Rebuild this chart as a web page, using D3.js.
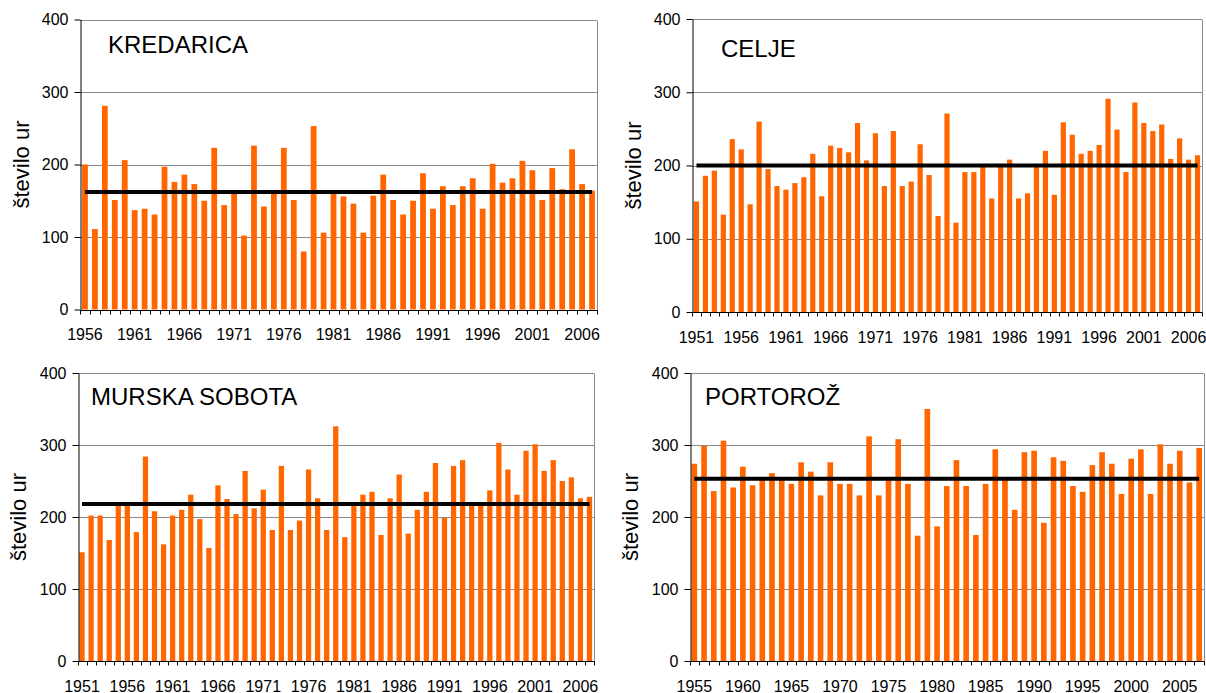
<!DOCTYPE html>
<html>
<head>
<meta charset="utf-8">
<script src="https://cdn.jsdelivr.net/npm/d3@7/dist/d3.min.js"></script>
<style>
  body { margin: 0; background: #fff; }
  svg { display: block; }
  text { font-family: "Liberation Sans", Arial, Helvetica, sans-serif; fill: #000; }
</style>
</head>
<body>
<svg id="chart" width="1206" height="693"></svg>
<script>
// Annual hours of sunshine-type counts ("število ur") per station, with the long-term mean.

const yearsKredarica = [1956,1957,1958,1959,1960,1961,1962,1963,1964,1965,1966,1967,1968,1969,1970,
  1971,1972,1973,1974,1975,1976,1977,1978,1979,1980,1981,1982,1983,1984,1985,1986,1987,1988,1989,1990,
  1991,1992,1993,1994,1995,1996,1997,1998,1999,2000,2001,2002,2003,2004,2005,2006,2007];
const hoursKredarica = [200,111,281,151,206,137,139,131,197,176,186,173,150,223,144,
  161,102,226,142,162,223,151,80,253,106,160,156,146,106,157,186,151,131,150,188,
  139,170,144,170,181,139,201,175,181,205,192,151,195,166,221,173,164];
const meanKredarica = 162;
const ticksKredarica = [1956,1961,1966,1971,1976,1981,1986,1991,1996,2001,2006];

const yearsCelje = [1951,1952,1953,1954,1955,1956,1957,1958,1959,1960,1961,1962,1963,1964,1965,
  1966,1967,1968,1969,1970,1971,1972,1973,1974,1975,1976,1977,1978,1979,1980,1981,1982,1983,1984,1985,
  1986,1987,1988,1989,1990,1991,1992,1993,1994,1995,1996,1997,1998,1999,2000,2001,2002,2003,2004,2005,2006,2007];
const hoursCelje = [151,186,193,133,236,222,147,260,195,172,167,176,184,216,158,
  227,224,218,258,207,244,172,247,172,178,229,187,131,271,122,191,191,198,155,198,
  208,155,162,198,220,160,259,242,216,220,228,291,249,191,286,258,247,256,209,237,208,214];
const meanCelje = 200;
const ticksCelje = [1951,1956,1961,1966,1971,1976,1981,1986,1991,1996,2001,2006];

const yearsMurskaSobota = [1951,1952,1953,1954,1955,1956,1957,1958,1959,1960,1961,1962,1963,1964,1965,
  1966,1967,1968,1969,1970,1971,1972,1973,1974,1975,1976,1977,1978,1979,1980,1981,1982,1983,1984,1985,
  1986,1987,1988,1989,1990,1991,1992,1993,1994,1995,1996,1997,1998,1999,2000,2001,2002,2003,2004,2005,2006,2007];
const hoursMurskaSobota = [151,202,202,168,218,218,179,284,208,162,202,210,231,197,157,
  244,225,204,264,212,238,182,271,182,195,266,226,182,326,172,217,231,235,175,226,
  259,177,210,235,275,199,271,279,218,218,237,303,266,231,292,301,264,279,250,255,226,228];
const meanMurskaSobota = 218;
const ticksMurskaSobota = [1951,1956,1961,1966,1971,1976,1981,1986,1991,1996,2001,2006];

const yearsPortoroz = [1955,1956,1957,1958,1959,1960,1961,1962,1963,1964,1965,1966,1967,1968,1969,
  1970,1971,1972,1973,1974,1975,1976,1977,1978,1979,1980,1981,1982,1983,1984,1985,1986,1987,1988,1989,
  1990,1991,1992,1993,1994,1995,1996,1997,1998,1999,2000,2001,2002,2003,2004,2005,2006,2007];
const hoursPortoroz = [274,299,236,306,241,270,244,254,261,253,246,276,263,230,276,
  246,246,230,312,230,253,308,246,174,350,187,243,279,243,175,246,294,253,210,290,
  292,192,283,278,243,235,272,290,274,232,281,294,232,301,274,292,248,296];
const meanPortoroz = 253;
const ticksPortoroz = [1955,1960,1965,1970,1975,1980,1985,1990,1995,2000,2005];

const yTicks = [0, 100, 200, 300, 400];
const axisTitle = "število ur";

// Panel layout: plot rectangles and title anchors
const panels = [
  { title: "KREDARICA", years: yearsKredarica, values: hoursKredarica, mean: meanKredarica, labels: ticksKredarica,
    left: 80, right: 597, top: 19.5, bottom: 309.5, titleX: 108, titleY: 53, axisTitleX: 28.5 },
  { title: "CELJE", years: yearsCelje, values: hoursCelje, mean: meanCelje, labels: ticksCelje,
    left: 692, right: 1202, top: 19, bottom: 312, titleX: 721, titleY: 57, axisTitleX: 641 },
  { title: "MURSKA SOBOTA", years: yearsMurskaSobota, values: hoursMurskaSobota, mean: meanMurskaSobota, labels: ticksMurskaSobota,
    left: 77.5, right: 594, top: 373, bottom: 661, titleX: 91, titleY: 405, axisTitleX: 26 },
  { title: "PORTOROŽ", years: yearsPortoroz, values: hoursPortoroz, mean: meanPortoroz, labels: ticksPortoroz,
    left: 689.5, right: 1204, top: 373, bottom: 661, titleX: 705, titleY: 405, axisTitleX: 638 }
];

const svg = d3.select("#chart");
const snap = v => Math.round(v) + 0.5;

panels.forEach(p => {
  const g = svg.append("g");

  const x = d3.scaleBand()
    .domain(p.years)
    .range([p.left, p.right])
    .paddingInner(0.42)
    .paddingOuter(0.21);

  const y = d3.scaleLinear()
    .domain([0, 400])
    .range([p.bottom, p.top]);

  // horizontal gridlines (top one closes the plot area)
  g.selectAll("line.grid")
    .data(yTicks.filter(t => t > 0))
    .join("line")
    .attr("class", "grid")
    .attr("x1", p.left).attr("x2", p.right)
    .attr("y1", d => snap(y(d))).attr("y2", d => snap(y(d)))
    .attr("stroke", "#8a8a8a").attr("stroke-width", 1);

  // right border of the plot area
  g.append("line")
    .attr("x1", snap(p.right)).attr("x2", snap(p.right))
    .attr("y1", snap(y(400))).attr("y2", snap(y(0)))
    .attr("stroke", "#8a8a8a").attr("stroke-width", 1);

  // bars
  g.selectAll("rect.bar")
    .data(p.years.map((yr, i) => ({ yr, v: p.values[i] })))
    .join("rect")
    .attr("class", "bar")
    .attr("x", d => x(d.yr))
    .attr("width", x.bandwidth())
    .attr("y", d => y(d.v))
    .attr("height", d => y(0) - y(d.v))
    .attr("fill", "#ff6600");

  // long-term mean line, drawn between first and last category centres
  const half = x.bandwidth() / 2;
  g.append("line")
    .attr("x1", x(p.years[0]) + half)
    .attr("x2", x(p.years[p.years.length - 1]) + half)
    .attr("y1", y(p.mean)).attr("y2", y(p.mean))
    .attr("stroke", "#000").attr("stroke-width", 4);

  // y axis
  const yAxis = d3.axisLeft(y).tickValues(yTicks).tickSize(6).tickPadding(6).tickSizeOuter(0);
  const ya = g.append("g")
    .attr("transform", `translate(${snap(p.left)},0)`)
    .call(yAxis);
  ya.select(".domain").attr("stroke", "#000");
  ya.selectAll(".tick line").attr("stroke", "#000");
  ya.selectAll(".tick text")
    .attr("font-size", 16)
    .attr("font-family", "Liberation Sans, Arial, sans-serif")
    .attr("fill", "#000");

  // x axis: ticks sit between categories, labels every fifth year
  const step = x.step();
  const outer = x.paddingOuter() * step;
  const bounds = d3.range(p.years.length + 1).map(i => p.left + outer - (step * x.paddingInner()) / 2 + i * step);
  const xa = g.append("g");
  xa.append("line")
    .attr("x1", p.left).attr("x2", p.right + 0.5)
    .attr("y1", snap(p.bottom)).attr("y2", snap(p.bottom))
    .attr("stroke", "#000");
  xa.selectAll("line.tk")
    .data(bounds)
    .join("line")
    .attr("class", "tk")
    .attr("x1", d => snap(d)).attr("x2", d => snap(d))
    .attr("y1", snap(p.bottom)).attr("y2", snap(p.bottom) + 4)
    .attr("stroke", "#000");
  xa.selectAll("text")
    .data(p.labels)
    .join("text")
    .attr("x", d => x(d) + half)
    .attr("y", p.bottom + 30.5)
    .attr("text-anchor", "middle")
    .attr("font-size", 16)
    .text(d => d);

  // station name
  g.append("text")
    .attr("x", p.titleX).attr("y", p.titleY)
    .attr("font-size", 24)
    .text(p.title);

  // axis title
  g.append("text")
    .attr("transform", `translate(${p.axisTitleX},${(p.top + p.bottom) / 2}) rotate(-90)`)
    .attr("text-anchor", "middle")
    .attr("font-size", 22)
    .text(axisTitle);
});
</script>
</body>
</html>
